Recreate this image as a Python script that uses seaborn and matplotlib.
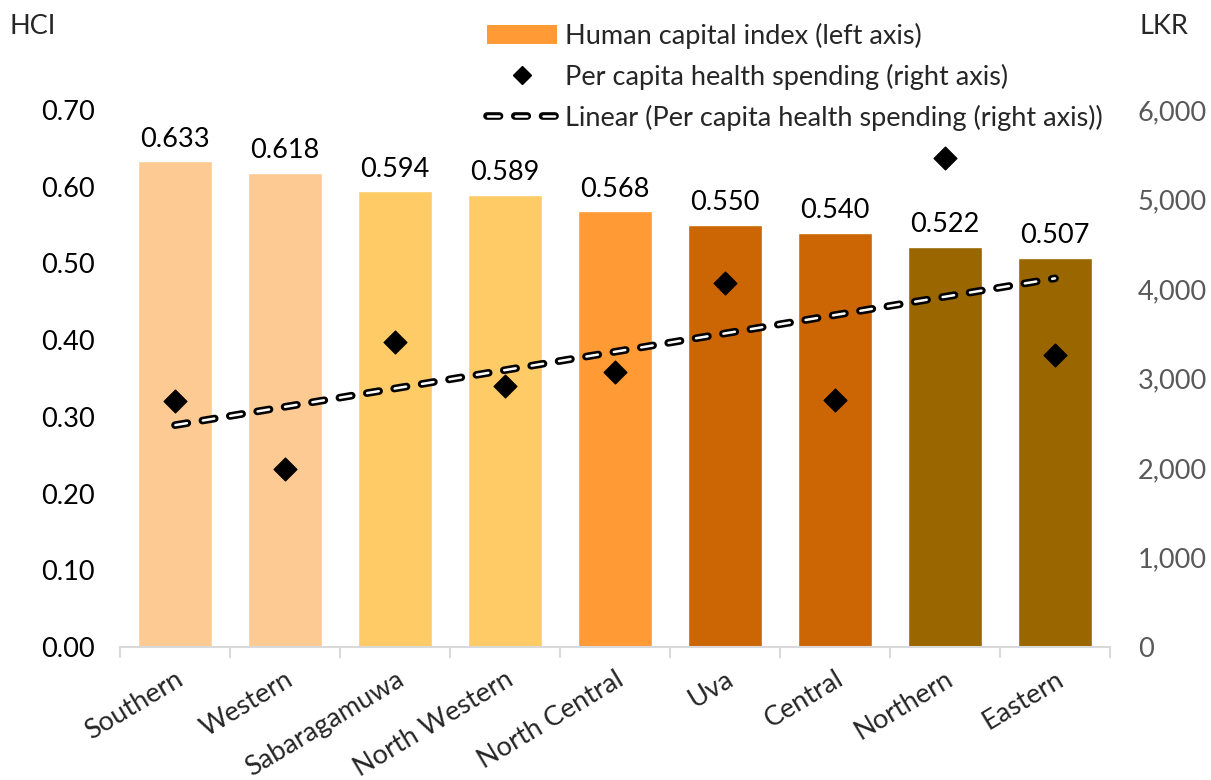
import numpy as np
import pandas as pd
import matplotlib
matplotlib.use("Agg")
import matplotlib.pyplot as plt
from matplotlib.patches import Patch
from matplotlib.lines import Line2D
from matplotlib.ticker import FixedLocator, FuncFormatter
import seaborn as sns

# Provincial human capital index and per capita health spending
provinces = ["Southern", "Western", "Sabaragamuwa", "North Western", "North Central",
             "Uva", "Central", "Northern", "Eastern"]
hci = [0.633, 0.618, 0.594, 0.589, 0.568, 0.550, 0.540, 0.522, 0.507]
health_spending = [2750, 1990, 3410, 2920, 3070, 4070, 2760, 5460, 3260]
bar_colors = ["#FDCA93", "#FDCA93", "#FECB66", "#FECB66", "#FF9A35",
              "#CC6604", "#CC6604", "#996600", "#996600"]

FS = 19.5

sns.set_theme(style="white")
plt.rcParams["font.family"] = ["Lato", "DejaVu Sans"]
plt.rcParams["lines.scale_dashes"] = False

df = pd.DataFrame({"province": provinces, "hci": hci, "spend": health_spending})
df["pos"] = np.arange(len(df))

fig = plt.figure(figsize=(12.11, 7.8), dpi=100)
ax = fig.add_axes([120 / 1211, 1 - 647 / 780, 990 / 1211, 537 / 780])

sns.barplot(data=df, x="province", y="hci", hue="province", palette=bar_colors,
            width=0.67, legend=False, ax=ax, saturation=1)
for cont in ax.containers:
    ax.bar_label(cont, fmt="%.3f", padding=7, fontsize=FS, color="black")

ax.set_xlim(-0.5, len(df) - 0.5)
ax.set_ylim(0, 0.70)
ax.set_yticks(np.arange(0, 0.71, 0.1))
ax.yaxis.set_major_formatter(FuncFormatter(lambda v, p: f"{v:.2f}"))
ax.set_xlabel("")
ax.set_ylabel("")
ax.tick_params(axis="y", length=0, pad=18, labelsize=FS, labelcolor="black")
ax.set_xticks(df["pos"])
ax.set_xticklabels(provinces, rotation=31, ha="right", rotation_mode="anchor")
ax.tick_params(axis="x", which="major", length=0, pad=14, labelsize=FS)
ax.xaxis.set_minor_locator(FixedLocator(np.arange(-0.5, len(df), 1.0)))
ax.tick_params(axis="x", which="minor", length=8, width=1.5, color="#D9D9D9", bottom=True)
for side in ["left", "right", "top"]:
    ax.spines[side].set_visible(False)
ax.spines["bottom"].set_color("#D9D9D9")
ax.spines["bottom"].set_linewidth(1.5)

# Right axis: spending and its linear trend
ax2 = ax.twinx()
sns.scatterplot(data=df, x="pos", y="spend", marker="D", s=135, color="black",
                edgecolor="black", ax=ax2, legend=False, zorder=5)
coef = np.polyfit(df["pos"], df["spend"], 1)
trend = np.polyval(coef, df["pos"])
line_kw_outer = dict(color="black", lw=5.5, solid_capstyle="round",
                     dash_capstyle="round", linestyle=(0, (9.0, 11.0)))
line_kw_inner = dict(color="white", lw=1.8, solid_capstyle="round",
                     dash_capstyle="round", linestyle=(19.7, (8.4, 11.6)))
ax2.plot(df["pos"], trend, zorder=4, **line_kw_outer)
ax2.plot(df["pos"], trend, zorder=4.5, **line_kw_inner)
ax2.set_ylim(0, 6000)
ax2.set_yticks(np.arange(0, 6001, 1000))
ax2.yaxis.set_major_formatter(FuncFormatter(lambda v, p: f"{int(v):,}"))
ax2.tick_params(axis="y", length=0, pad=20, labelsize=FS, labelcolor="#595959")
ax2.set_xlim(-0.5, len(df) - 0.5)
ax2.set_xlabel("")
ax2.set_ylabel("")
for side in ["left", "right", "top", "bottom"]:
    ax2.spines[side].set_visible(False)

fig.text(10 / 1211, 1 - 26 / 780, "HCI", fontsize=FS, va="center", ha="left")
fig.text(1140 / 1211, 1 - 26 / 780, "LKR", fontsize=FS, va="center", ha="left")

handles = [
    Patch(facecolor="#FF9A35", edgecolor="none"),
    Line2D([], [], marker="D", color="black", linestyle="none", markersize=9),
    (Line2D([], [], **line_kw_outer), Line2D([], [], **line_kw_inner)),
]
labels = ["Human capital index (left axis)",
          "Per capita health spending (right axis)",
          "Linear (Per capita health spending (right axis))"]
fig.legend(handles, labels, loc="upper left", bbox_to_anchor=(476 / 1211, 1 - 12 / 780),
           frameon=False, fontsize=FS, handlelength=2.6, handletextpad=0.3,
           labelspacing=0.55, borderaxespad=0)

fig.savefig("out.png", dpi=100)
